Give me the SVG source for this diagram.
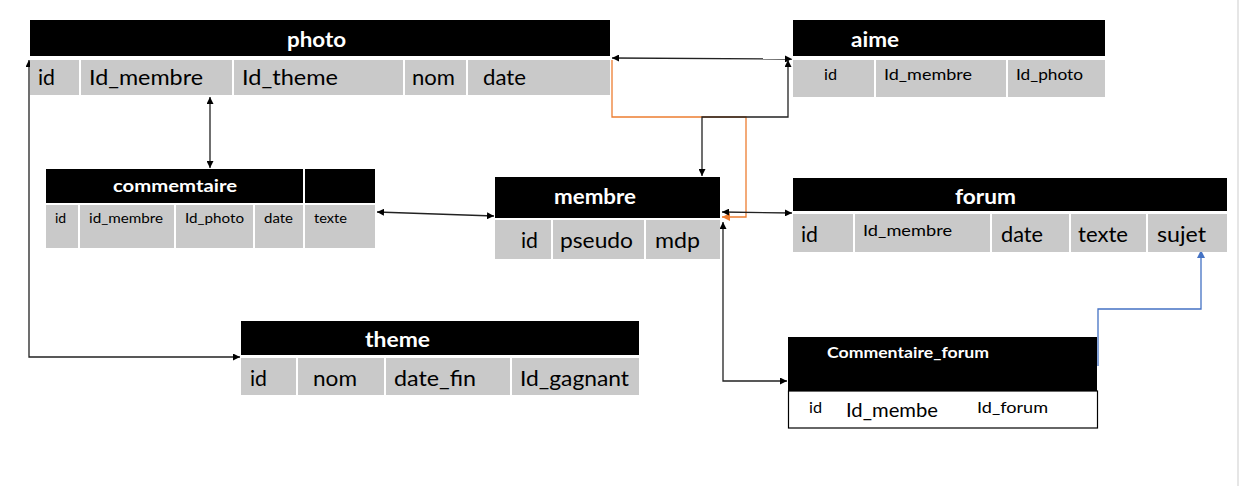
<svg xmlns="http://www.w3.org/2000/svg" width="1241" height="486" viewBox="0 0 1241 486">
<defs>
<style>
.hd{fill:#000}
.cell{fill:#c9c9c9}
.t{font-family:Lato,"Open Sans","Liberation Sans",sans-serif;fill:#000}
.h{font-family:Lato,"Open Sans","Liberation Sans",sans-serif;fill:#fff;font-weight:bold}
.k{fill:none;stroke:#222;stroke-width:1.3}
.o{fill:none;stroke:#ed7d31;stroke-width:1.3}
.b{fill:none;stroke:#4472c4;stroke-width:1.3}
</style>
<marker id="ak" viewBox="0 0 10 10" refX="10" refY="5" markerWidth="7" markerHeight="7" orient="auto-start-reverse" markerUnits="userSpaceOnUse"><path d="M0,0 L10,5 L0,10 z" fill="#000"/></marker>
<marker id="ao" viewBox="0 0 10 10" refX="10" refY="5" markerWidth="8" markerHeight="8" orient="auto-start-reverse" markerUnits="userSpaceOnUse"><path d="M0,0 L10,5 L0,10 z" fill="#ed7d31"/></marker>
<marker id="ab" viewBox="0 0 10 10" refX="10" refY="5" markerWidth="8" markerHeight="8" orient="auto-start-reverse" markerUnits="userSpaceOnUse"><path d="M0,0 L10,5 L0,10 z" fill="#4472c4"/></marker>
</defs>
<rect x="0" y="0" width="1241" height="486" fill="#fff"/>
<rect x="1237" y="0" width="2" height="486" fill="#e6e6e6"/>

<g id="connectors">
<polyline class="k" points="29,60 29,357 240,357" marker-start="url(#ak)" marker-end="url(#ak)"/>
<line class="k" x1="210" y1="97" x2="210" y2="168" marker-start="url(#ak)" marker-end="url(#ak)"/>
<line class="k" x1="377" y1="212" x2="494" y2="216" marker-start="url(#ak)" marker-end="url(#ak)"/>
<line class="k" x1="612" y1="58" x2="792" y2="59" marker-start="url(#ak)" marker-end="url(#ak)"/>
<polyline class="o" points="612,60 612,117 746,117 746,217 722,217" marker-end="url(#ao)"/>
<polyline class="k" points="702,176 702,117 788,117 788,60" marker-start="url(#ak)" marker-end="url(#ak)"/>
<line class="k" x1="722" y1="212" x2="792" y2="213" marker-start="url(#ak)" marker-end="url(#ak)"/>
<polyline class="k" points="723,222 723,381 787,381" marker-start="url(#ak)" marker-end="url(#ak)"/>
<polyline class="b" points="1098,366 1098,309 1201,309 1201,250" marker-end="url(#ab)"/>
</g>

<g id="photo">
<rect class="hd" x="30" y="20" width="580" height="36"/>
<text class="h" x="287" y="47" font-size="21" textLength="59" lengthAdjust="spacingAndGlyphs">photo</text>
<rect class="cell" x="30" y="60" width="49" height="35"/>
<rect class="cell" x="81" y="60" width="151" height="35"/>
<rect class="cell" x="234" y="60" width="169" height="35"/>
<rect class="cell" x="405" y="60" width="61" height="35"/>
<rect class="cell" x="468" y="60" width="142" height="35"/>
<g class="t" font-size="21">
<text x="38" y="85" textLength="17" lengthAdjust="spacingAndGlyphs">id</text>
<text x="89" y="85" textLength="114" lengthAdjust="spacingAndGlyphs">Id_membre</text>
<text x="242" y="85" textLength="96" lengthAdjust="spacingAndGlyphs">Id_theme</text>
<text x="412" y="85" textLength="43" lengthAdjust="spacingAndGlyphs">nom</text>
<text x="483" y="85" textLength="43" lengthAdjust="spacingAndGlyphs">date</text>
</g>
</g>

<g id="aime">
<rect class="hd" x="793" y="20" width="312" height="36"/>
<text class="h" x="851" y="47" font-size="21" textLength="48" lengthAdjust="spacingAndGlyphs">aime</text>
<rect class="cell" x="793" y="60" width="81" height="37"/>
<rect class="cell" x="876" y="60" width="130" height="37"/>
<rect class="cell" x="1008" y="60" width="97" height="37"/>
<g class="t" font-size="16">
<text x="824" y="80" textLength="13" lengthAdjust="spacingAndGlyphs">id</text>
<text x="884" y="80" textLength="88" lengthAdjust="spacingAndGlyphs">Id_membre</text>
<text x="1016" y="80" textLength="67" lengthAdjust="spacingAndGlyphs">Id_photo</text>
</g>
</g>

<g id="commemtaire">
<rect class="hd" x="46" y="169" width="257" height="34"/>
<rect class="hd" x="305" y="169" width="70" height="34"/>
<text class="h" x="113" y="192" font-size="17" textLength="124" lengthAdjust="spacingAndGlyphs">commemtaire</text>
<rect class="cell" x="46" y="205" width="32" height="43"/>
<rect class="cell" x="80" y="205" width="94" height="43"/>
<rect class="cell" x="176" y="205" width="77" height="43"/>
<rect class="cell" x="255" y="205" width="48" height="43"/>
<rect class="cell" x="305" y="205" width="70" height="43"/>
<g class="t" font-size="14">
<text x="55" y="223">id</text>
<text x="89" y="223" textLength="74" lengthAdjust="spacingAndGlyphs">id_membre</text>
<text x="185" y="223" textLength="59" lengthAdjust="spacingAndGlyphs">Id_photo</text>
<text x="264" y="223" textLength="29" lengthAdjust="spacingAndGlyphs">date</text>
<text x="314" y="223" textLength="33" lengthAdjust="spacingAndGlyphs">texte</text>
</g>
</g>

<g id="membre">
<rect class="hd" x="495" y="177" width="225" height="41"/>
<text class="h" x="554" y="204" font-size="21" textLength="82" lengthAdjust="spacingAndGlyphs">membre</text>
<rect class="cell" x="495" y="220" width="56" height="39"/>
<rect class="cell" x="553" y="220" width="91" height="39"/>
<rect class="cell" x="646" y="220" width="74" height="39"/>
<g class="t" font-size="21">
<text x="521" y="248" textLength="17" lengthAdjust="spacingAndGlyphs">id</text>
<text x="560" y="248" textLength="73" lengthAdjust="spacingAndGlyphs">pseudo</text>
<text x="655" y="248" textLength="45" lengthAdjust="spacingAndGlyphs">mdp</text>
</g>
</g>

<g id="forum">
<rect class="hd" x="793" y="178" width="434" height="33"/>
<text class="h" x="955" y="204" font-size="21" textLength="61" lengthAdjust="spacingAndGlyphs">forum</text>
<rect class="cell" x="793" y="214" width="60" height="38"/>
<rect class="cell" x="855" y="214" width="135" height="38"/>
<rect class="cell" x="992" y="214" width="77" height="38"/>
<rect class="cell" x="1071" y="214" width="75" height="38"/>
<rect class="cell" x="1148" y="214" width="79" height="38"/>
<g class="t" font-size="21">
<text x="801" y="242" textLength="17" lengthAdjust="spacingAndGlyphs">id</text>
<text x="863" y="236" font-size="16" textLength="89" lengthAdjust="spacingAndGlyphs">Id_membre</text>
<text x="1001" y="242" textLength="42" lengthAdjust="spacingAndGlyphs">date</text>
<text x="1078" y="242" textLength="50" lengthAdjust="spacingAndGlyphs">texte</text>
<text x="1157" y="242" textLength="49" lengthAdjust="spacingAndGlyphs">sujet</text>
</g>
</g>

<g id="theme">
<rect class="hd" x="241" y="321" width="398" height="34"/>
<text class="h" x="365" y="347" font-size="21" textLength="65" lengthAdjust="spacingAndGlyphs">theme</text>
<rect class="cell" x="241" y="358" width="55" height="37"/>
<rect class="cell" x="298" y="358" width="86" height="37"/>
<rect class="cell" x="386" y="358" width="124" height="37"/>
<rect class="cell" x="512" y="358" width="127" height="37"/>
<g class="t" font-size="21">
<text x="250" y="386" textLength="17" lengthAdjust="spacingAndGlyphs">id</text>
<text x="313" y="386" textLength="44" lengthAdjust="spacingAndGlyphs">nom</text>
<text x="394" y="386" textLength="82" lengthAdjust="spacingAndGlyphs">date_fin</text>
<text x="520" y="386" textLength="109" lengthAdjust="spacingAndGlyphs">Id_gagnant</text>
</g>
</g>

<g id="commentaire_forum">
<rect class="hd" x="788" y="337" width="309" height="54"/>
<text class="h" x="827" y="358" font-size="15.5" textLength="162" lengthAdjust="spacingAndGlyphs">Commentaire_forum</text>
<rect x="788.5" y="391" width="309" height="37" fill="#fff" stroke="#000" stroke-width="1.2"/>
<g class="t">
<text x="809" y="413" font-size="15.5" textLength="13" lengthAdjust="spacingAndGlyphs">id</text>
<text x="846" y="417" font-size="19.5" textLength="92" lengthAdjust="spacingAndGlyphs">Id_membe</text>
<text x="977" y="413" font-size="16" textLength="71" lengthAdjust="spacingAndGlyphs">Id_forum</text>
</g>
</g>
</svg>
